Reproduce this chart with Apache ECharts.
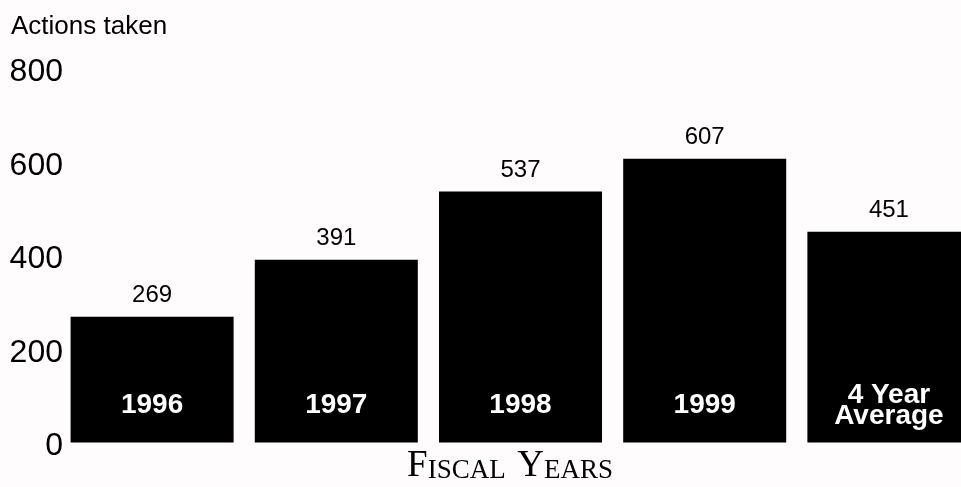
<!DOCTYPE html>
<html>
<head>
<meta charset="utf-8">
<script src="https://cdn.jsdelivr.net/npm/echarts@6/dist/echarts.min.js"></script>
<style>
html,body{margin:0;padding:0;background:#fefcfd;}
#chart{width:961px;height:487px;}
</style>
</head>
<body>
<div id="chart"></div>
<script>
const categories = ['1996', '1997', '1998', '1999', '4 Year\nAverage'];
const actionsTaken = [269, 391, 537, 607, 451];
const yAxisTitle = 'Actions taken';
const xAxisTitle = '{b|F}{s|ISCAL}{g| }{b|Y}{s|EARS}';
const yMin = 0, yMax = 800, yStep = 200;

const chart = echarts.init(document.getElementById('chart'), null, {renderer: 'canvas'});
chart.setOption({
  backgroundColor: '#fefcfd',
  animation: false,
  title: {
    text: yAxisTitle,
    left: 11,
    top: 14,
    padding: 0,
    textStyle: {fontFamily: 'Liberation Sans', fontSize: 26, fontWeight: 'normal', color: '#000'}
  },
  graphic: [{
    type: 'text',
    x: 510,
    y: 484.5,
    style: {
      text: xAxisTitle,
      align: 'center',
      verticalAlign: 'bottom',
      rich: {
        b: {fontFamily: 'Liberation Serif', fontSize: 37, lineHeight: 37, verticalAlign: 'bottom', fill: '#000'},
        s: {fontFamily: 'Liberation Serif', fontSize: 27, lineHeight: 30, verticalAlign: 'bottom', fill: '#000'},
        g: {fontFamily: 'Liberation Serif', fontSize: 46, lineHeight: 30, verticalAlign: 'bottom', fill: '#000'}
      }
    }
  }],
  grid: {left: 60, right: -20, top: 68.5, bottom: 44.5, containLabel: false, outerBoundsMode: 'none'},
  xAxis: {
    type: 'category',
    data: categories,
    z: 10,
    axisLine: {show: false},
    axisTick: {show: false},
    splitLine: {show: false},
    axisLabel: {
      inside: true,
      margin: 37,
      verticalAlign: 'middle',
      color: '#fff',
      fontFamily: 'Liberation Sans',
      fontWeight: 'bold',
      fontSize: 28,
      lineHeight: 21,
      interval: 0
    }
  },
  yAxis: {
    type: 'value',
    min: yMin,
    max: yMax,
    interval: yStep,
    axisLine: {show: false},
    axisTick: {show: false},
    splitLine: {show: false},
    axisLabel: {
      margin: -3,
      color: '#000',
      fontFamily: 'Liberation Sans',
      fontSize: 32,
      verticalAlign: 'top',
      lineHeight: 8
    }
  },
  series: [{
    type: 'bar',
    data: actionsTaken,
    barCategoryGap: '11.5%',
    itemStyle: {color: '#000'},
    label: {
      show: true,
      position: 'top',
      distance: 9,
      color: '#000',
      fontFamily: 'Liberation Sans',
      fontSize: 24
    }
  }]
});
</script>
</body>
</html>
